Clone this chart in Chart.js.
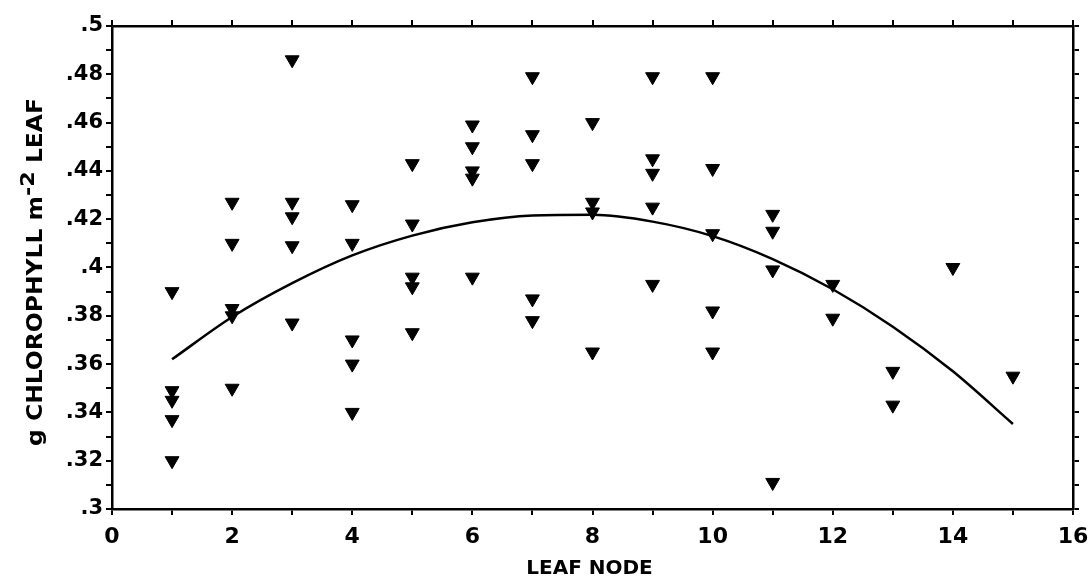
<!DOCTYPE html>
<html>
<head>
<meta charset="utf-8">
<title>Chlorophyll per leaf node</title>
<script src="https://cdn.jsdelivr.net/npm/chart.js@4.4.1/dist/chart.umd.min.js"></script>
<style>
  html, body { margin: 0; padding: 0; background: #fff; }
  #wrap { width: 1091px; height: 585px; }
</style>
</head>
<body>
<div id="wrap"><canvas id="chlChart" width="1091" height="585"></canvas></div>
<script>
// Measured leaves: node position and chlorophyll content
const leafNodes = [
  1, 1, 1, 1, 1,
  2, 2, 2, 2, 2,
  3, 3, 3, 3, 3,
  4, 4, 4, 4, 4,
  5, 5, 5, 5, 5,
  6, 6, 6, 6, 6,
  7, 7, 7, 7, 7,
  8, 8, 8, 8,
  9, 9, 9, 9, 9,
  10, 10, 10, 10, 10,
  11, 11, 11, 11,
  12, 12,
  13, 13,
  14,
  15
];
const chlorophyll = [
  0.390, 0.349, 0.345, 0.337, 0.320,
  0.427, 0.410, 0.383, 0.380, 0.350,
  0.486, 0.427, 0.421, 0.409, 0.377,
  0.426, 0.410, 0.370, 0.360, 0.340,
  0.443, 0.418, 0.396, 0.392, 0.373,
  0.459, 0.450, 0.440, 0.437, 0.396,
  0.479, 0.455, 0.443, 0.387, 0.378,
  0.460, 0.427, 0.423, 0.365,
  0.479, 0.445, 0.439, 0.425, 0.393,
  0.479, 0.441, 0.414, 0.382, 0.365,
  0.422, 0.415, 0.399, 0.311,
  0.393, 0.379,
  0.357, 0.343,
  0.400,
  0.355
];

// Regression curve, read at each node
const fitNodes = [1, 2, 3, 4, 5, 6, 7, 8, 9, 10, 11, 12, 13, 14, 15];
const fitValues = [0.362, 0.3795, 0.3935, 0.4050, 0.4132, 0.4187, 0.4215, 0.4218, 0.4190, 0.4130, 0.4035, 0.3910, 0.3755, 0.3570, 0.3352];

// Axis labels
const xTickLabels = ['0', '2', '4', '6', '8', '10', '12', '14', '16'];
const yTickLabels = ['.3', '.32', '.34', '.36', '.38', '.4', '.42', '.44', '.46', '.48', '.5'];

const FONT = '"DejaVu Sans", "Liberation Sans", sans-serif';

const points = leafNodes.map((n, i) => ({ x: n, y: chlorophyll[i] }));
const curve = fitNodes.map((n, i) => ({ x: n, y: fitValues[i] }));

const xLabelFor = v => {
  const idx = xTickLabels.indexOf(String(Math.round(v)));
  return (Math.abs(v - Math.round(v)) < 1e-6 && idx >= 0) ? xTickLabels[idx] : '';
};
const yLabelFor = v => {
  const hundredths = Math.round(v * 100);
  if (hundredths % 2 !== 0) return '';
  return yTickLabels[(hundredths - 30) / 2] || '';
};

// shared look of the frame ticks
const frameGrid = {
  drawOnChartArea: false,
  drawTicks: true,
  tickLength: 6,
  color: '#000',
  lineWidth: 2
};
const frameBorder = { display: true, color: '#000', width: 2.5 };

// axis titles, the y one needs a superscript
const axisTitles = {
  id: 'axisTitles',
  afterDraw(chart) {
    const { ctx, chartArea } = chart;
    ctx.save();
    ctx.fillStyle = '#000';
    ctx.font = 'bold 20px ' + FONT;
    ctx.textAlign = 'center';
    ctx.textBaseline = 'middle';
    ctx.fillText('LEAF NODE', (chartArea.left + chartArea.right) / 2 - 3, 569);

    const parts = [
      { t: 'g CHLOROPHYLL m', size: 21, rise: 0 },
      { t: '-2', size: 20, rise: 8 },
      { t: ' LEAF', size: 21, rise: 0 }
    ];
    let total = 0;
    parts.forEach(p => {
      ctx.font = 'bold ' + p.size + 'px ' + FONT;
      p.w = ctx.measureText(p.t).width;
      total += p.w;
    });
    const span = 348;
    ctx.translate(37, 272);
    ctx.rotate(-Math.PI / 2);
    ctx.scale(span / total, 1);
    ctx.textAlign = 'left';
    let x = -total / 2;
    parts.forEach(p => {
      ctx.font = 'bold ' + p.size + 'px ' + FONT;
      ctx.fillText(p.t, x, -p.rise);
      x += p.w;
    });
    ctx.restore();
  }
};

new Chart(document.getElementById('chlChart'), {
  type: 'scatter',
  data: {
    datasets: [
      {
        type: 'line',
        data: curve,
        borderColor: '#000',
        borderWidth: 2.5,
        pointRadius: 0,
        fill: false,
        cubicInterpolationMode: 'monotone'
      },
      {
        data: points,
        pointStyle: 'triangle',
        rotation: 180,
        pointRadius: 8,
        pointBackgroundColor: '#000',
        pointBorderColor: '#000',
        pointBorderWidth: 1
      }
    ]
  },
  options: {
    responsive: false,
    animation: false,
    layout: { padding: 0 },
    plugins: {
      legend: { display: false },
      tooltip: { enabled: false }
    },
    scales: {
      x: {
        type: 'linear',
        position: 'bottom',
        min: 0,
        max: 16,
        grid: frameGrid,
        border: frameBorder,
        ticks: {
          stepSize: 1,
          autoSkip: false,
          maxRotation: 0,
          padding: 9,
          color: '#000',
          font: { family: FONT, size: 22, weight: 'bold' },
          callback: v => xLabelFor(v)
        },
        // keep the "16" label from pushing the frame inwards
        afterFit: s => { s.height = 76; s.paddingRight = 0; s.paddingLeft = 0; }
      },
      x2: {
        type: 'linear',
        position: 'top',
        min: 0,
        max: 16,
        grid: frameGrid,
        border: frameBorder,
        ticks: { stepSize: 1, autoSkip: false, callback: () => '' },
        afterFit: s => { s.height = 26; s.paddingRight = 0; s.paddingLeft = 0; }
      },
      y: {
        type: 'linear',
        position: 'left',
        min: 0.3,
        max: 0.5,
        grid: frameGrid,
        border: frameBorder,
        ticks: {
          stepSize: 0.01,
          autoSkip: false,
          padding: 3,
          color: '#000',
          font: { family: FONT, size: 21, weight: 'bold' },
          callback: v => yLabelFor(v)
        },
        afterFit: s => { s.width = 112; s.paddingTop = 0; s.paddingBottom = 0; }
      },
      y2: {
        type: 'linear',
        position: 'right',
        min: 0.3,
        max: 0.5,
        grid: frameGrid,
        border: frameBorder,
        ticks: { stepSize: 0.01, autoSkip: false, callback: () => '' },
        afterFit: s => { s.width = 18; s.paddingTop = 0; s.paddingBottom = 0; }
      }
    }
  },
  plugins: [axisTitles]
});
</script>
</body>
</html>
